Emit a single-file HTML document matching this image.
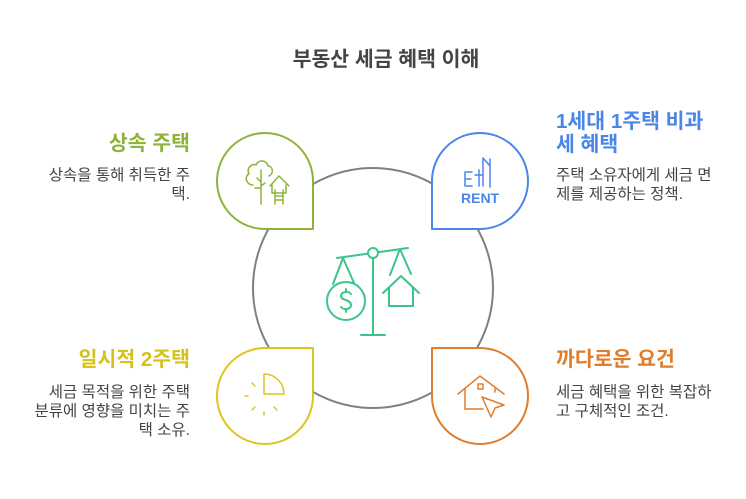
<!DOCTYPE html>
<html><head><meta charset="utf-8"><style>
body{margin:0;width:746px;height:499px;background:#fff;position:relative;overflow:hidden;font-family:"Liberation Sans","Noto Sans CJK KR",sans-serif}
.t{position:absolute;font-weight:bold;font-size:20.5px;line-height:23px;white-space:nowrap}
.d{position:absolute;font-size:15.5px;line-height:19px;color:#444;white-space:nowrap}
.r{text-align:right}
</style></head><body>
<svg width="746" height="499" style="position:absolute;left:0;top:0" fill="none" stroke-linecap="round" stroke-linejoin="round">
<circle cx="373" cy="288" r="120" stroke="#808080" stroke-width="2"/>
<path d="M313,229 L265,229 A48,48 0 1 1 313,181 Z" fill="#fff" stroke="#8db33a" stroke-width="2"/>
<path d="M432,229 L480,229 A48,48 0 1 0 432,181 Z" fill="#fff" stroke="#4a86e8" stroke-width="2"/>
<path d="M313,348 L265,348 A48,48 0 1 0 313,396 Z" fill="#fff" stroke="#dcc51c" stroke-width="2"/>
<path d="M432,348 L480,348 A48,48 0 1 1 432,396 Z" fill="#fff" stroke="#e07d2a" stroke-width="2"/>
<g stroke="#8db33a" stroke-width="1.5">
<path d="M261,204 V170 M257,178 l4,4 M261,186 l4,-3 M255,188 l6,0"/>
<path d="M253,185 c-7,0 -9,-9 -4,-11 c-3,-6 3,-11 7,-9 c2,-6 11,-5 12,1 c5,0 6,8 1,10"/>
<path d="M270,186 l9,-10 l10,10 M272,185 v8 h14 v-8 M275,190 v14 M283,190 v14 M275,196 h8 M275,200 h8"/>
</g>
<g stroke="#4a86e8" stroke-width="1.5">
<path d="M465,172 h7 M465,179 h6 M465,172 v14 h7 M479,170 v16 M475,175 h8 M483,164 v-6 l7,8 v-6 M490,159 v28 M483,165 v21"/>
<text x="461" y="203" font-family="Liberation Sans" font-size="14" fill="#4a86e8" stroke="none" font-weight="bold">RENT</text>
</g>
<g stroke="#dcc51c" stroke-width="1.5">
<path d="M264,374 v20 h20 a20,20 0 0 0 -20,-20 Z"/>
<path d="M245,396 h3 M252,383 l3,3 M252,410 l3,-3 M264,415 v-3 M274,407 l3,3"/>
</g>
<g stroke="#e07d2a" stroke-width="1.5">
<path d="M458,394 l22,-18 l24,18 M465,389 v20 h18 M495,389 v3"/><rect x="478" y="384" width="5" height="5"/>
<path d="M482,397 l22,8 l-9,3 l-4,9 Z"/>
</g>
<g stroke="#3cc48a" stroke-width="2">
<path d="M337,258 l71,-10 M373,258 v77 M361,335 h24 M343,258 l-10,26 M343,258 l11,25 M400,249 l-10,26 M400,249 l11,25"/>
<circle cx="373" cy="253" r="5" fill="#fff"/>
<circle cx="346" cy="301" r="19"/>
<path d="M351,294 c-2,-3 -10,-3 -10,2 c0,5 10,3 10,9 c0,5 -8,5 -10,2 M346,289 v3 M346,309 v3"/>
<path d="M383,293 l18,-17 l18,17 M389,288 v18 h24 v-18"/>
</g>
</svg>
<div class="t" style="left:236px;top:48px;width:300px;text-align:center;color:#444">부동산 세금 혜택 이해</div>
<div class="t r" style="left:20px;top:132px;width:170px;color:#8db33a">상속 주택</div>
<div class="d r" style="left:20px;top:166px;width:170px">상속을 통해 취득한 주<br>택.</div>
<div class="t" style="left:556px;top:110px;width:180px;color:#4a86e8">1세대 1주택 비과<br>세 혜택</div>
<div class="d" style="left:556px;top:166px;width:190px">주택 소유자에게 세금 면<br>제를 제공하는 정책.</div>
<div class="t r" style="left:20px;top:348px;width:170px;color:#d8c11a">일시적 2주택</div>
<div class="d r" style="left:10px;top:383px;width:180px">세금 목적을 위한 주택<br>분류에 영향을 미치는 주<br>택 소유.</div>
<div class="t" style="left:556px;top:348px;width:180px;color:#e07d2a">까다로운 요건</div>
<div class="d" style="left:556px;top:383px;width:190px">세금 혜택을 위한 복잡하<br>고 구체적인 조건.</div>
</body></html>
